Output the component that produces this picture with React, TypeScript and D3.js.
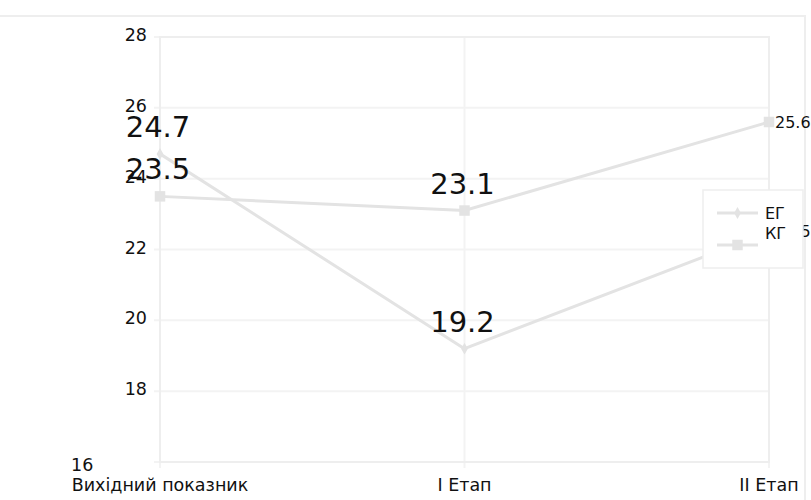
import React, { useEffect, useRef } from "react";
import * as d3 from "d3";

const categories = ["Вихідний показник", "I Етап", "II Етап"];
const seriesNames = ["ЕГ", "КГ"];
const egValues = [24.7, 19.2, 22.5];
const kgValues = [23.5, 23.1, 25.6];
const yTicks = [16, 18, 20, 22, 24, 26, 28];

const W = 811;
const H = 500;
const FONT = "DejaVu Sans, sans-serif";
const LINE = "#e3e3e3";
const GRID = "#f3f3f3";

export default function App() {
  const ref = useRef<SVGSVGElement>(null);

  useEffect(() => {
    const svg = d3.select(ref.current!);
    svg.selectAll("*").remove();

    const x = d3.scalePoint<string>().domain(categories).range([160, 769]);
    const y = d3.scaleLinear().domain([16, 28]).range([462, 37]);

    // outer frame
    svg.append("rect").attr("x", -3).attr("y", 16).attr("width", W + 5 - 8).attr("height", H)
      .attr("fill", "none").attr("stroke", "#eeeeee").attr("stroke-width", 2);

    // grid
    const g = svg.append("g");
    yTicks.forEach((t) => {
      g.append("line").attr("x1", 154).attr("x2", 769).attr("y1", y(t)).attr("y2", y(t))
        .attr("stroke", GRID).attr("stroke-width", 2);
    });
    categories.forEach((c) => {
      g.append("line").attr("x1", x(c)!).attr("x2", x(c)!).attr("y1", 37).attr("y2", 468)
        .attr("stroke", GRID).attr("stroke-width", 2);
    });
    g.append("rect").attr("x", 160).attr("y", 37).attr("width", 609).attr("height", 425)
      .attr("fill", "none").attr("stroke", "#eeeeee").attr("stroke-width", 2);

    // y tick labels
    yTicks.forEach((t, i) => {
      const isBottom = i === 0;
      svg.append("text")
        .attr("x", isBottom ? 71 : 147)
        .attr("y", isBottom ? y(t) + 3 : y(t) - 2)
        .attr("text-anchor", isBottom ? "start" : "end")
        .attr("dominant-baseline", "central")
        .attr("font-family", FONT).attr("font-size", 17.5).attr("fill", "#111")
        .text(String(t));
    });

    // category labels
    categories.forEach((c) => {
      const t = svg.append("text")
        .attr("x", x(c)!).attr("y", 485)
        .attr("text-anchor", "middle").attr("dominant-baseline", "central")
        .attr("font-family", FONT).attr("font-size", 17.5).attr("fill", "#111")
        .text(c);
      const w = (t.node() as SVGTextElement).getComputedTextLength();
      if (x(c)! + w / 2 > W - 3) t.attr("x", W - 3 - w / 2);
      if (x(c)! - w / 2 < 70) t.attr("x", 70 + w / 2);
    });

    const series = [
      { name: seriesNames[0], values: egValues, symbol: d3.symbolDiamond, size: 40 },
      { name: seriesNames[1], values: kgValues, symbol: d3.symbolSquare, size: 110 },
    ];

    const line = d3.line<number>().x((_, i) => x(categories[i])!).y((v) => y(v));

    series.forEach((s) => {
      svg.append("path").attr("d", line(s.values)!).attr("fill", "none")
        .attr("stroke", LINE).attr("stroke-width", 3).attr("stroke-linejoin", "round");
      s.values.forEach((v, i) => {
        svg.append("path")
          .attr("d", d3.symbol().type(s.symbol).size(s.size)()!)
          .attr("transform", `translate(${x(categories[i])},${y(v)})`)
          .attr("fill", LINE);
      });
    });

    // data labels
    series.forEach((s) => {
      s.values.forEach((v, i) => {
        const last = i === categories.length - 1;
        svg.append("text")
          .attr("x", last ? x(categories[i])! + 6 : x(categories[i])! - 2)
          .attr("y", last ? y(v) : y(v) - 27)
          .attr("text-anchor", last ? "start" : "middle")
          .attr("dominant-baseline", "central")
          .attr("font-family", FONT).attr("font-size", last ? 16 : 29).attr("fill", "#111")
          .text(v.toFixed(1));
      });
    });

    // legend
    const lg = svg.append("g").attr("transform", "translate(703,190)");
    lg.append("rect").attr("width", 100).attr("height", 78).attr("fill", "#fff")
      .attr("stroke", "#eeeeee").attr("stroke-width", 1.5);
    const rows = [
      { ty: 23, my: 23 },
      { ty: 43, my: 55 },
    ];
    series.forEach((s, i) => {
      const r = rows[i];
      lg.append("line").attr("x1", 14).attr("x2", 55).attr("y1", r.my).attr("y2", r.my)
        .attr("stroke", LINE).attr("stroke-width", 3);
      lg.append("path").attr("d", d3.symbol().type(s.symbol).size(s.size)()!)
        .attr("transform", `translate(34.5,${r.my})`).attr("fill", LINE);
      lg.append("text").attr("x", 62).attr("y", r.ty).attr("dominant-baseline", "central")
        .attr("font-family", FONT).attr("font-size", 16).attr("fill", "#111").text(s.name);
    });
  }, []);

  return (
    <div style={{ position: "absolute", left: 0, top: 0 }}>
      <svg ref={ref} width={W} height={H} style={{ display: "block", background: "#fff" }} />
    </div>
  );
}
